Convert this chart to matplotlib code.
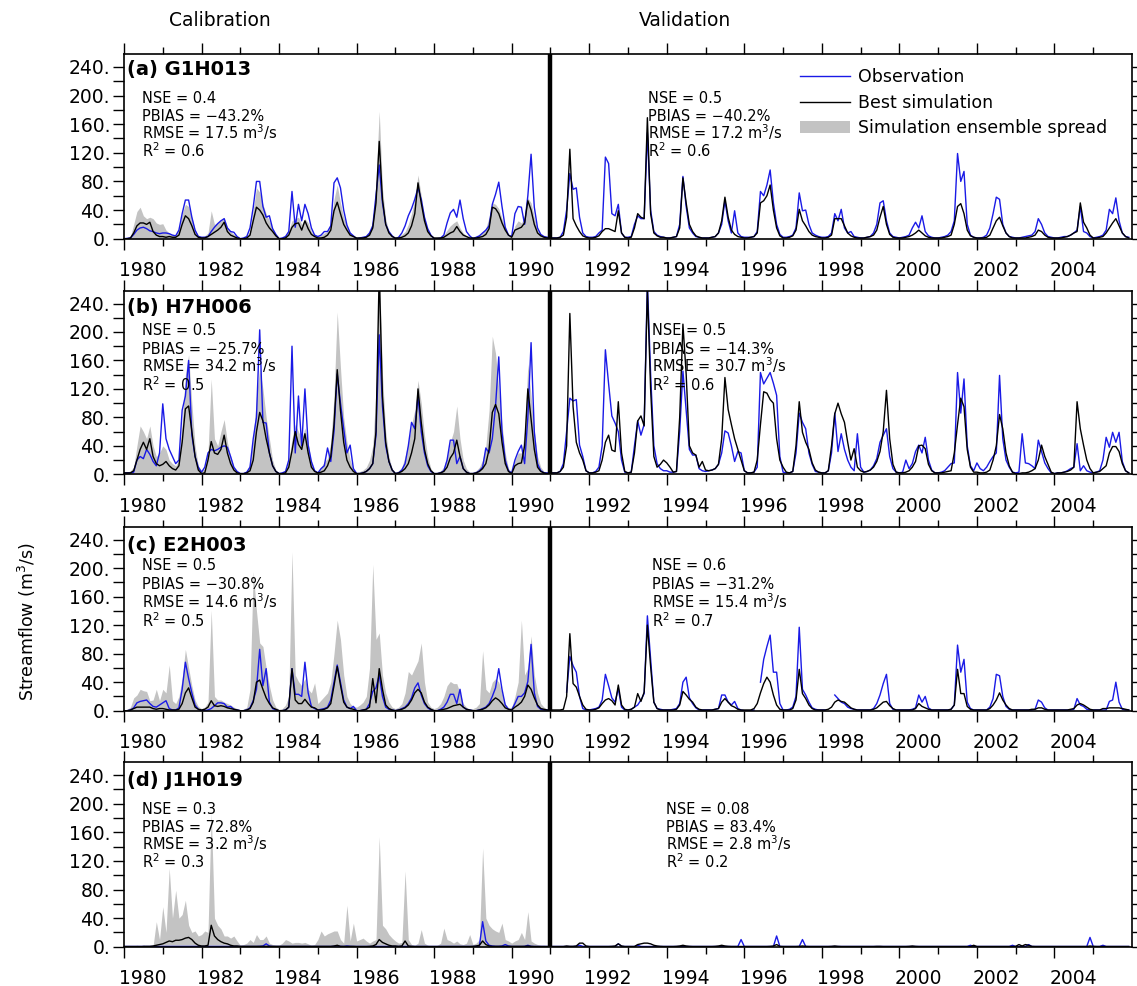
import numpy as np
import matplotlib
matplotlib.use('Agg')
import matplotlib.pyplot as plt
from matplotlib.transforms import ScaledTranslation
from matplotlib.patches import Patch
from matplotlib.lines import Line2D

plt.rcParams['font.family'] = ['DejaVu Sans']
nan = np.nan

# ---------------- data (monthly, Jan 1980 - Dec 2005) ----------------
start_year = 1980
split_year = 1991
n_cal_years = 11

stations = ['(a) G1H013', '(b) H7H006', '(c) E2H003', '(d) J1H019']

stats_cal = [
    ['NSE = 0.4', 'PBIAS = \u221243.2%', 'RMSE = 17.5 m$^3$/s', 'R$^2$ = 0.6'],
    ['NSE = 0.5', 'PBIAS = \u221225.7%', 'RMSE = 34.2 m$^3$/s', 'R$^2$ = 0.5'],
    ['NSE = 0.5', 'PBIAS = \u221230.8%', 'RMSE = 14.6 m$^3$/s', 'R$^2$ = 0.5'],
    ['NSE = 0.3', 'PBIAS = 72.8%', 'RMSE = 3.2 m$^3$/s', 'R$^2$ = 0.3'],
]
stats_val = [
    ['NSE = 0.5', 'PBIAS = \u221240.2%', 'RMSE = 17.2 m$^3$/s', 'R$^2$ = 0.6'],
    ['NSE = 0.5', 'PBIAS = \u221214.3%', 'RMSE = 30.7 m$^3$/s', 'R$^2$ = 0.6'],
    ['NSE = 0.6', 'PBIAS = \u221231.2%', 'RMSE = 15.4 m$^3$/s', 'R$^2$ = 0.7'],
    ['NSE = 0.08', 'PBIAS = 83.4%', 'RMSE = 2.8 m$^3$/s', 'R$^2$ = 0.2'],
]

yticks = [0, 40, 80, 120, 160, 200, 240]
ytick_labels = ['0.', '40.', '80.', '120.', '160.', '200.', '240.']
xticks = [1980, 1982, 1984, 1986, 1988, 1990, 1992, 1994, 1996, 1998, 2000, 2002, 2004]

# ---- (a) G1H013 ----
obs_a = [
    [0, 0.5, 1, 6, 12, 15, 16, 14, 11, 10, 8, 7],
    [8, 8, 7, 5, 4, 12, 35, 54, 54, 30, 12, 3],
    [2, 2, 3, 10, 16, 21, 25, 28, 15, 10, 9, 3],
    [0, 1, 3, 15, 44, 80, 80, 45, 30, 32, 14, 6],
    [0, 1, 3, 10, 66, 16, 48, 25, 48, 35, 15, 5],
    [3, 5, 10, 10, 18, 78, 85, 71, 40, 19, 8, 4],
    [0, 1, 2, 3, 8, 18, 60, 103, 50, 20, 10, 4],
    [0, 2, 8, 18, 32, 42, 55, 71, 55, 30, 14, 5],
    [0, 0, 1, 5, 22, 36, 41, 30, 54, 28, 10, 4],
    [0, 2, 4, 8, 12, 18, 48, 62, 79, 45, 16, 5],
    [3, 35, 45, 44, 20, 60, 118, 44, 15, 6, 3, 2],
    [1, 1, 1, 2, 10, 40, 91, 69, 71, 30, 8, 3],
    [2, 2, 3, 8, 12, 114, 105, 35, 32, 48, 8, 2],
    [2, 3, 20, 32, 28, 28, 148, 40, 10, 5, 3, 2],
    [1, 1, 2, 3, 20, 87, 45, 15, 8, 3, 2, 1],
    [1, 1, 2, 3, 8, 20, 53, 25, 8, 39, 8, 3],
    [2, 2, 2, 3, 10, 66, 60, 75, 96, 50, 20, 6],
    [2, 2, 3, 5, 15, 64, 39, 40, 20, 8, 5, 3],
    [2, 2, 3, 8, 35, 25, 41, 15, 8, 10, 3, 2],
    [1, 1, 2, 3, 8, 20, 50, 53, 25, 8, 3, 2],
    [1, 2, 3, 5, 15, 23, 15, 32, 10, 4, 2, 1],
    [1, 2, 3, 5, 10, 25, 119, 80, 94, 20, 5, 2],
    [1, 1, 2, 5, 15, 35, 58, 55, 20, 8, 3, 2],
    [1, 1, 2, 3, 4, 5, 10, 28, 20, 8, 3, 2],
    [1, 1, 2, 3, 3, 5, 8, 12, 45, 10, 8, 3],
    [1, 2, 3, 5, 12, 41, 35, 57, 25, 8, 3, 2],
]
sim_a = [
    [0, 0, 1, 8, 18, 22, 22, 20, 23, 10, 5, 3],
    [3, 2, 3, 2, 2, 5, 20, 32, 28, 18, 6, 2],
    [1, 1, 3, 6, 9, 12, 16, 23, 10, 5, 3, 1],
    [0, 0, 1, 5, 25, 44, 40, 33, 22, 15, 10, 4],
    [0, 0, 1, 5, 16, 21, 22, 12, 25, 14, 6, 3],
    [1, 1, 2, 5, 12, 39, 51, 35, 20, 12, 5, 3],
    [1, 1, 1, 2, 5, 15, 50, 136, 55, 20, 8, 3],
    [1, 1, 2, 4, 8, 18, 35, 78, 50, 25, 10, 4],
    [1, 1, 1, 2, 5, 8, 10, 17, 10, 5, 3, 1],
    [1, 1, 2, 3, 6, 14, 44, 42, 35, 22, 12, 5],
    [2, 12, 14, 16, 22, 53, 40, 20, 8, 4, 2, 1],
    [1, 1, 1, 2, 5, 30, 125, 28, 18, 10, 4, 2],
    [1, 1, 2, 4, 10, 14, 14, 12, 10, 39, 8, 2],
    [1, 2, 15, 35, 30, 28, 169, 35, 8, 4, 2, 2],
    [1, 1, 2, 3, 15, 85, 50, 20, 10, 4, 2, 1],
    [1, 1, 2, 3, 8, 25, 58, 30, 12, 6, 3, 2],
    [1, 1, 2, 3, 8, 50, 53, 60, 75, 40, 15, 4],
    [1, 1, 2, 4, 12, 41, 25, 18, 10, 5, 3, 2],
    [1, 1, 2, 5, 28, 28, 28, 18, 8, 4, 2, 1],
    [1, 1, 2, 3, 5, 12, 30, 45, 20, 6, 2, 1],
    [1, 1, 2, 3, 5, 8, 12, 8, 4, 2, 1, 1],
    [1, 1, 2, 3, 5, 20, 45, 49, 35, 12, 4, 2],
    [1, 1, 1, 2, 5, 15, 25, 30, 18, 8, 3, 1],
    [1, 1, 1, 1, 2, 3, 5, 12, 10, 5, 2, 1],
    [1, 1, 1, 2, 3, 5, 8, 10, 50, 23, 15, 5],
    [1, 1, 2, 3, 8, 15, 22, 28, 18, 8, 3, 1],
]
spread_a = [
    [0, 1, 3, 20, 38, 44, 32, 28, 30, 28, 22, 20],
    [21, 12, 8, 5, 5, 12, 35, 48, 45, 30, 12, 5],
    [3, 4, 8, 39, 20, 22, 25, 30, 15, 10, 6, 3],
    [1, 1, 3, 10, 40, 71, 65, 48, 35, 25, 15, 6],
    [2, 2, 5, 12, 25, 28, 30, 20, 28, 22, 10, 5],
    [3, 5, 8, 10, 22, 55, 75, 50, 30, 18, 8, 4],
    [2, 2, 3, 5, 10, 25, 80, 178, 70, 28, 10, 4],
    [2, 3, 6, 10, 20, 35, 55, 89, 60, 30, 12, 5],
    [1, 1, 2, 5, 12, 18, 22, 25, 15, 8, 4, 2],
    [2, 3, 5, 8, 15, 30, 50, 48, 42, 28, 15, 6],
    [3, 18, 25, 22, 30, 57, 50, 30, 12, 6, 3, 2],
]

# ---- (b) H7H006 ----
obs_b = [
    [2, 2, 2, 3, 20, 25, 22, 35, 28, 18, 12, 30],
    [99, 50, 35, 25, 15, 20, 90, 110, 160, 55, 25, 10],
    [3, 10, 30, 35, 33, 35, 38, 40, 38, 25, 10, 4],
    [1, 1, 3, 10, 50, 80, 203, 73, 72, 30, 12, 4],
    [1, 2, 4, 20, 180, 30, 110, 40, 120, 41, 18, 5],
    [2, 8, 12, 37, 18, 60, 141, 100, 64, 30, 41, 8],
    [1, 1, 2, 4, 8, 15, 55, 196, 96, 40, 18, 6],
    [1, 2, 6, 15, 40, 73, 64, 110, 60, 30, 12, 4],
    [1, 1, 2, 5, 20, 48, 48, 15, 25, 8, 3, 1],
    [1, 2, 5, 10, 37, 30, 50, 96, 165, 60, 20, 5],
    [2, 20, 32, 41, 15, 80, 185, 60, 15, 5, 2, 2],
    [2, 2, 2, 4, 15, 60, 107, 103, 105, 41, 25, 5],
    [2, 2, 4, 10, 40, 175, 127, 82, 72, 60, 20, 3],
    [2, 3, 40, 75, 55, 70, 270, 141, 40, 15, 8, 5],
    [5, 3, 3, 4, 60, 145, 90, 35, 27, 27, 8, 5],
    [4, 5, 6, 8, 14, 30, 61, 58, 40, 18, 32, 30],
    [5, 2, 2, 3, 10, 143, 127, 135, 143, 128, 111, 25],
    [3, 2, 2, 4, 30, 86, 73, 64, 30, 14, 4, 3],
    [2, 2, 5, 30, 86, 32, 57, 35, 20, 10, 5, 57],
    [10, 3, 4, 6, 12, 22, 45, 55, 64, 25, 8, 3],
    [2, 3, 20, 8, 15, 32, 41, 30, 52, 20, 6, 2],
    [2, 3, 5, 10, 15, 16, 143, 86, 134, 40, 12, 5],
    [16, 8, 5, 10, 18, 25, 30, 139, 50, 20, 10, 3],
    [2, 3, 57, 16, 15, 12, 8, 48, 32, 16, 8, 2],
    [1, 2, 2, 3, 5, 8, 10, 43, 5, 12, 5, 3],
    [2, 3, 5, 20, 52, 38, 59, 45, 59, 18, 5, 2],
]
sim_b = [
    [2, 2, 2, 5, 20, 35, 45, 35, 50, 25, 15, 12],
    [14, 18, 12, 8, 6, 12, 45, 92, 96, 60, 25, 6],
    [1, 2, 20, 46, 30, 28, 35, 55, 30, 15, 6, 2],
    [1, 1, 2, 5, 20, 60, 87, 75, 50, 30, 12, 4],
    [1, 1, 2, 10, 33, 60, 42, 35, 57, 30, 10, 4],
    [2, 3, 5, 12, 25, 70, 147, 90, 45, 20, 10, 4],
    [1, 1, 2, 4, 8, 15, 60, 285, 110, 45, 18, 6],
    [1, 2, 4, 8, 15, 30, 50, 120, 73, 35, 15, 5],
    [1, 1, 2, 4, 10, 23, 30, 48, 25, 8, 3, 1],
    [1, 2, 4, 8, 15, 35, 87, 98, 85, 45, 15, 4],
    [1, 12, 15, 16, 40, 120, 77, 35, 10, 4, 2, 1],
    [2, 2, 2, 4, 10, 40, 226, 95, 45, 30, 20, 5],
    [2, 2, 3, 5, 20, 45, 55, 34, 32, 102, 30, 4],
    [2, 3, 30, 75, 82, 68, 260, 120, 25, 10, 14, 20],
    [16, 10, 3, 4, 80, 211, 141, 40, 30, 27, 10, 18],
    [6, 5, 6, 8, 14, 50, 136, 91, 70, 50, 35, 20],
    [5, 2, 2, 3, 20, 70, 116, 114, 105, 100, 50, 20],
    [10, 3, 2, 4, 40, 102, 59, 45, 35, 16, 6, 3],
    [2, 2, 5, 40, 85, 100, 85, 73, 45, 20, 36, 10],
    [5, 3, 4, 6, 10, 18, 32, 60, 118, 50, 14, 3],
    [2, 2, 3, 5, 10, 18, 40, 41, 36, 14, 5, 2],
    [2, 2, 3, 4, 5, 30, 70, 107, 95, 35, 10, 3],
    [3, 2, 2, 3, 6, 20, 40, 84, 64, 30, 12, 3],
    [1, 1, 2, 2, 3, 5, 8, 20, 41, 25, 14, 3],
    [1, 2, 2, 3, 4, 6, 10, 102, 64, 41, 20, 8],
    [2, 3, 4, 8, 12, 30, 39, 39, 32, 15, 5, 2],
]
spread_b = [
    [2, 3, 5, 10, 40, 68, 60, 50, 68, 40, 25, 30],
    [40, 35, 20, 15, 12, 20, 70, 140, 168, 100, 40, 12],
    [5, 8, 30, 134, 50, 40, 60, 77, 45, 25, 10, 4],
    [2, 2, 5, 15, 50, 110, 150, 120, 80, 50, 20, 6],
    [2, 3, 6, 20, 50, 70, 60, 50, 65, 45, 15, 6],
    [3, 10, 18, 22, 45, 110, 228, 150, 80, 45, 20, 8],
    [3, 4, 6, 10, 20, 40, 120, 300, 140, 60, 25, 8],
    [3, 5, 10, 25, 45, 70, 90, 132, 100, 55, 25, 8],
    [2, 3, 5, 10, 25, 45, 60, 96, 50, 20, 8, 3],
    [3, 5, 10, 20, 40, 90, 194, 170, 120, 70, 30, 8],
    [3, 20, 30, 30, 60, 155, 110, 60, 25, 10, 4, 2],
]

# ---- (c) E2H003 ----
obs_c = [
    [0, 0, 1, 4, 11, 13, 14, 15, 10, 6, 5, 8],
    [11, 14, 3, 1, 1, 4, 30, 68, 45, 25, 8, 2],
    [0, 0, 1, 3, 7, 11, 11, 10, 5, 6, 2, 1],
    [0, 0, 1, 4, 14, 30, 86, 35, 59, 12, 3, 1],
    [0, 0, 1, 5, 59, 23, 23, 20, 68, 25, 6, 3],
    [1, 2, 3, 5, 15, 40, 64, 40, 15, 5, 3, 6],
    [0, 0, 1, 2, 10, 27, 32, 50, 20, 5, 2, 1],
    [0, 1, 3, 5, 10, 18, 32, 39, 22, 10, 4, 1],
    [0, 0, 2, 5, 12, 23, 23, 10, 30, 5, 2, 1],
    [0, 0, 1, 3, 5, 10, 20, 32, 59, 30, 8, 2],
    [1, 10, 20, 20, 25, 41, 93, 25, 6, 2, 1, 1],
    [nan, nan, nan, nan, nan, 26, 76, 63, 54, 20, 3, 1],
    [1, 2, 3, 5, 15, 51, 35, 18, 12, 31, 5, 1],
    [1, 2, 5, 8, 15, 24, 133, 72, 12, 3, 2, 1],
    [1, 1, 2, 3, 10, 40, 47, 18, 10, 4, 1, 1],
    [1, 1, 1, 2, 3, 22, 22, 12, 8, 13, 3, 1],
    [0, 0, 0, 1, nan, 40, 72, 90, 106, 54, 54, 10],
    [1, 1, 2, 5, 20, 117, 30, 22, 12, 4, 2, 1],
    [1, 1, nan, nan, 22, 17, 12, 10, 5, 3, 2, 1],
    [1, 1, 1, 1, 3, 10, 22, 38, 51, 10, 2, 1],
    [1, 1, 1, 1, 2, 4, 22, 12, 20, 4, 1, 1],
    [1, 1, 1, 1, 2, 8, 92, 54, 72, 12, 3, 1],
    [1, 1, 1, 1, 5, 17, 51, 49, 20, 6, 2, 1],
    [1, 1, 1, 1, 1, 1, 2, 15, 12, 4, 1, 1],
    [1, 1, 1, 1, 1, 1, 2, 17, 8, 6, 2, 1],
    [1, 1, 1, 1, 1, 13, 15, 40, 12, 2, 1, 1],
]
sim_c = [
    [0, 0, 1, 3, 5, 5, 5, 5, 5, 3, 2, 3],
    [3, 2, 1, 1, 1, 2, 10, 25, 32, 18, 5, 2],
    [1, 2, 5, 14, 7, 6, 7, 6, 4, 3, 2, 1],
    [0, 0, 1, 3, 12, 40, 43, 30, 18, 10, 4, 2],
    [0, 0, 1, 5, 59, 15, 10, 10, 16, 10, 5, 4],
    [1, 1, 2, 4, 10, 35, 62, 36, 12, 5, 3, 2],
    [0, 0, 1, 2, 5, 45, 11, 59, 30, 8, 3, 1],
    [0, 1, 2, 4, 8, 15, 25, 30, 25, 12, 5, 2],
    [0, 0, 1, 2, 3, 5, 7, 8, 9, 5, 2, 1],
    [0, 0, 1, 2, 4, 8, 14, 18, 15, 10, 4, 2],
    [1, 5, 8, 12, 20, 36, 30, 18, 8, 3, 2, 1],
    [1, 1, 1, 1, 2, 20, 108, 38, 33, 20, 8, 2],
    [1, 1, 2, 4, 10, 15, 17, 14, 8, 36, 8, 2],
    [1, 2, 5, 24, 13, 26, 120, 62, 12, 3, 1, 1],
    [1, 1, 1, 2, 8, 27, 22, 16, 12, 5, 2, 1],
    [1, 1, 1, 2, 3, 12, 17, 12, 7, 5, 2, 1],
    [1, 1, 1, 3, 10, 25, 38, 47, 40, 22, 8, 2],
    [1, 1, 1, 3, 15, 58, 24, 17, 8, 3, 1, 1],
    [1, 1, 2, 5, 12, 15, 13, 12, 8, 4, 2, 1],
    [1, 1, 1, 1, 2, 4, 8, 12, 13, 7, 3, 1],
    [1, 1, 1, 1, 1, 3, 10, 6, 4, 2, 1, 1],
    [1, 1, 1, 1, 2, 8, 58, 24, 24, 6, 2, 1],
    [1, 1, 1, 1, 3, 8, 15, 25, 15, 8, 3, 1],
    [1, 1, 1, 1, 1, 2, 2, 4, 4, 2, 1, 1],
    [1, 1, 1, 1, 1, 2, 3, 8, 10, 8, 5, 2],
    [1, 1, 1, 3, 3, 4, 4, 4, 4, 3, 2, 1],
]
spread_c = [
    [1, 2, 5, 18, 22, 30, 28, 27, 14, 15, 30, 14],
    [30, 25, 64, 14, 10, 20, 45, 86, 60, 35, 15, 6],
    [3, 5, 12, 141, 20, 15, 15, 12, 10, 8, 5, 3],
    [1, 2, 5, 30, 195, 140, 95, 90, 60, 35, 15, 5],
    [2, 3, 8, 20, 223, 50, 41, 35, 45, 30, 25, 39],
    [10, 15, 20, 25, 40, 80, 127, 100, 50, 20, 10, 6],
    [5, 8, 12, 20, 60, 205, 100, 109, 50, 25, 12, 5],
    [3, 5, 10, 25, 55, 50, 60, 70, 95, 40, 12, 5],
    [3, 5, 10, 20, 35, 41, 38, 38, 25, 10, 5, 2],
    [3, 5, 10, 84, 30, 25, 40, 45, 40, 25, 10, 4],
    [5, 20, 40, 127, 50, 60, 105, 50, 25, 10, 5, 2],
]

# ---- (d) J1H019 ----
obs_d = [
    [0.3, 0.3, 0.3, 0.3, 0.3, 0.3, 0.3, 0.3, 0.3, 0.3, 0.3, 0.3],
    [0.3, 0.3, 0.3, 0.3, 0.3, 0.3, 0.3, 0.3, 0.3, 0.3, 0.3, 0.3],
    [0.3, 0.3, 0.3, 0.3, 0.3, 0.3, 0.3, 0.3, 0.3, 0.3, 0.3, 0.3],
    [0.3, 0.3, 0.3, 0.3, 0.3, 0.3, 0.5, 1, 4, 1, 0.3, 0.3],
    [0.3, 0.3, 0.3, 0.3, 0.3, 0.3, 0.3, 0.3, 0.3, 0.3, 0.3, 0.3],
    [0.3, 0.3, 0.3, 0.3, 0.3, 0.5, 1, 0.5, 0.3, 1, 0.5, 0.3],
    [0.3, 0.3, 0.3, 0.3, 0.3, 0.3, 0.3, 0.3, 0.3, 0.3, 0.3, 0.3],
    [0.3, 0.3, 0.3, 0.3, 0.3, 0.3, 0.3, 0.3, 0.3, 0.3, 0.3, 0.3],
    [0.3, 0.3, 0.3, 0.3, 0.3, 0.3, 0.3, 0.3, 0.3, 0.3, 0.3, 0.3],
    [0.3, 0.5, 1, 35, 8, 2, 1, 0.5, 0.5, 1, 3, 1],
    [0.3, 0.3, 0.3, 0.3, 0.5, 2, 0.5, 0.3, 0.3, 0.3, 0.3, 0.3],
    [0.3, 0.3, 0.3, 0.3, 0.3, 0.3, 0.3, 0.3, 0.5, 2, 0.5, 0.3],
    [0.3, 0.3, 0.3, 0.3, 0.3, 0.3, 0.3, 0.3, 0.3, 4, 0.5, 0.3],
    [0.3, 0.3, 0.3, 2, 0.3, 0.3, 0.3, 0.3, 0.3, 0.3, 0.3, 0.3],
    [0.3, 0.3, 0.3, 0.3, 0.3, 0.3, 0.3, 0.3, 0.3, 0.3, 0.3, 0.3],
    [0.3, 0.3, 0.3, 0.3, 0.3, 0.3, 0.3, 0.3, 0.3, 0.3, 0.3, 10],
    [0.3, 0.3, 0.3, 0.3, 0.3, 0.3, 0.3, 0.3, 0.3, 0.3, 15, 0.3],
    [0.3, 0.3, 0.3, 0.3, 0.3, 0.3, 10, 0.3, 0.3, 0.3, 0.3, 0.3],
    [0.3, 0.3, 0.3, 0.3, 0.3, 0.3, 0.3, 0.3, 0.3, 0.3, 0.3, 0.3],
    [0.3, 0.3, 0.3, 0.3, 0.3, 0.3, 0.3, 0.3, 0.3, 0.3, 0.3, 0.3],
    [0.3, 0.3, 0.3, 0.3, 0.3, 0.3, 0.3, 0.3, 0.3, 0.3, 0.3, 0.3],
    [0.3, 0.3, 0.3, 0.3, 0.3, 0.3, 0.3, 0.3, 0.3, 0.3, 2, 0.3],
    [0.3, 0.3, 0.3, 0.3, 0.3, 0.3, 0.3, 0.3, 0.3, 0.3, 0.3, 2],
    [0.3, 0.3, 0.3, 0.3, 3, 0.3, 0.3, 0.3, 0.3, 0.3, 0.3, 0.3],
    [0.3, 0.3, 0.3, 0.3, 0.3, 0.3, 0.3, 0.3, 0.3, 0.3, 0.3, 13],
    [0.3, 0.3, 0.3, 2, 0.3, 0.3, 0.3, 0.3, 0.3, 0.3, 0.3, 0.3],
]
sim_d = [
    [0.3, 0.3, 0.3, 0.3, 0.3, 0.3, 0.3, 0.5, 0.5, 1, 2, 3],
    [4, 6, 8, 7, 9, 9, 10, 12, 13, 10, 5, 2],
    [1, 1, 2, 30, 15, 10, 7, 5, 4, 2, 1, 1],
    [0.5, 0.5, 0.5, 0.5, 0.5, 0.5, 0.5, 0.5, 0.5, 0.5, 0.5, 0.5],
    [0.5, 0.5, 0.5, 0.5, 0.5, 0.5, 0.5, 0.5, 0.5, 0.5, 0.5, 0.5],
    [0.5, 0.5, 0.5, 0.5, 0.5, 1, 2, 0.5, 0.5, 0.5, 0.5, 0.5],
    [0.3, 0.3, 0.3, 0.3, 0.5, 1, 3, 10, 6, 4, 2, 1],
    [1, 0.5, 1, 8, 1, 0.5, 0.3, 0.3, 0.3, 0.3, 0.3, 0.3],
    [0.3, 0.3, 0.3, 0.3, 0.3, 0.3, 0.3, 0.3, 0.3, 0.3, 0.3, 0.3],
    [0.5, 1, 2, 8, 3, 1, 0.5, 0.5, 0.5, 0.5, 0.5, 0.5],
    [0.5, 0.5, 0.5, 0.5, 0.5, 1, 0.5, 0.3, 0.3, 0.3, 0.3, 0.3],
    [0.3, 0.3, 0.3, 0.3, 0.3, 1, 0.5, 0.5, 1, 5, 5, 1],
    [0.3, 0.3, 0.3, 0.3, 0.3, 0.3, 0.3, 0.5, 1, 4, 1, 0.3],
    [0.3, 0.3, 0.3, 3, 4, 5, 5, 4, 2, 1, 0.5, 0.3],
    [0.3, 0.3, 0.3, 0.5, 1, 2, 1, 0.5, 0.3, 0.3, 0.3, 0.3],
    [0.3, 0.3, 0.3, 0.5, 1, 2, 1, 0.5, 0.3, 0.3, 0.3, 0.3],
    [0.3, 0.3, 0.3, 0.3, 0.3, 0.3, 0.3, 0.3, 0.5, 1, 3, 0.5],
    [0.3, 0.3, 0.3, 0.3, 0.3, 0.5, 1, 0.5, 0.3, 0.3, 0.3, 0.3],
    [0.3, 0.3, 0.3, 0.5, 1, 0.5, 0.3, 0.3, 0.3, 0.3, 0.3, 0.3],
    [0.3, 0.3, 0.3, 0.3, 0.3, 0.5, 0.5, 0.3, 0.3, 0.3, 0.3, 0.3],
    [0.3, 0.3, 0.3, 0.5, 1, 0.5, 0.3, 0.3, 0.3, 0.3, 0.3, 0.3],
    [0.3, 0.3, 0.3, 0.3, 0.3, 0.3, 0.3, 0.3, 0.3, 0.3, 0.3, 2],
    [0.3, 0.3, 0.3, 0.3, 0.3, 0.3, 0.3, 0.3, 0.3, 0.3, 0.3, 0.3],
    [0.5, 3, 1, 3, 2, 0.5, 0.3, 0.3, 0.3, 0.3, 0.3, 0.3],
    [0.3, 0.3, 0.3, 0.3, 0.3, 0.3, 0.3, 0.3, 0.3, 0.3, 0.3, 1],
    [0.5, 0.3, 0.3, 0.3, 0.3, 0.3, 0.3, 0.3, 0.3, 0.3, 0.3, 0.3],
]
spread_d = [
    [0.5, 0.5, 1, 1, 2, 1, 3, 1, 1, 1, 35, 10],
    [56, 20, 110, 40, 79, 40, 45, 65, 30, 20, 22, 15],
    [17, 22, 20, 188, 40, 30, 25, 15, 15, 12, 15, 8],
    [2, 3, 5, 10, 6, 17, 10, 10, 15, 5, 3, 2],
    [2, 5, 10, 8, 5, 6, 6, 5, 6, 4, 2, 3],
    [10, 22, 15, 18, 20, 22, 22, 10, 5, 58, 8, 33],
    [8, 10, 12, 8, 5, 8, 10, 154, 30, 25, 17, 12],
    [8, 5, 6, 106, 10, 3, 2, 5, 24, 5, 2, 1],
    [1, 2, 5, 26, 10, 8, 5, 8, 4, 3, 5, 17],
    [3, 5, 10, 138, 40, 30, 25, 22, 20, 33, 10, 8],
    [5, 8, 10, 20, 10, 49, 8, 5, 3, 2, 2, 1],
]

obs_all = [obs_a, obs_b, obs_c, obs_d]
sim_all = [sim_a, sim_b, sim_c, sim_d]
spread_all = [spread_a, spread_b, spread_c, spread_d]

# ---------------- layout (pixels of the 1137x986 figure) ----------------
W, H = 1137, 986
ax_left, ax_right = 124, 1132
panel_tb = [(54, 238.7), (290.7, 474.3), (526.7, 710.7), (762.3, 946.7)]
title_y = [69.5, 308, 545, 780]
stats_y = [[98, 116, 134, 152], [330, 349, 367, 386],
           [565, 584, 603, 622], [809, 827, 845, 863]]
stats_x_cal = [142, 142, 142, 142]
stats_x_val = [648, 652, 652, 666]
y_top = 258

BLUE = '#1a1ae6'
GRAY = '#c3c3c3'

fig = plt.figure(figsize=(W / 100, H / 100), dpi=100)

n_months = len(obs_a) * 12
t = start_year + np.arange(n_months) / 12.0
n_cal = n_cal_years * 12

for k in range(4):
    top, bot = panel_tb[k]
    ax = fig.add_axes([ax_left / W, 1 - bot / H, (ax_right - ax_left) / W, (bot - top) / H])
    obs = np.array(obs_all[k], dtype=float).ravel()
    sim = np.array(sim_all[k], dtype=float).ravel()
    spr = np.array(spread_all[k], dtype=float).ravel()

    ax.fill_between(t[:n_cal], 0, spr, color=GRAY, lw=0, zorder=1)
    ax.plot(t, obs, color=BLUE, lw=1.0, zorder=2)
    ax.plot(t, sim, color='black', lw=1.0, zorder=3)
    ax.axvline(split_year, color='black', lw=3.2, zorder=4)

    ax.set_xlim(1980, 2006)
    ax.set_ylim(0, y_top)

    ax.set_yticks(yticks)
    ax.set_yticklabels(ytick_labels)
    ax.set_yticks(np.arange(20, y_top, 40), minor=True)
    ax.set_xticks(xticks)
    ax.set_xticklabels([str(x) for x in xticks])
    ax.set_xticks(np.arange(1981, 2006, 2), minor=True)

    ax.tick_params(axis='both', which='both', direction='out', top=True, right=True,
                   width=1.0, color='black')
    ax.tick_params(axis='y', which='major', length=8, labelsize=13.5, pad=2)
    ax.tick_params(axis='y', which='minor', length=8)
    ax.tick_params(axis='x', which='major', length=8, labelsize=13.5, pad=8)
    ax.tick_params(axis='x', which='minor', length=5)
    for s in ax.spines.values():
        s.set_linewidth(1.2)

    off = ScaledTranslation(19 / 100, 0, fig.dpi_scale_trans)
    for lab in ax.get_xticklabels():
        lab.set_transform(lab.get_transform() + off)

    fig.text(127 / W, 1 - title_y[k] / H, stations[k], fontsize=14, fontweight='bold',
             ha='left', va='center')
    for j in range(4):
        yb = 1 - (stats_y[k][j] + 5) / H
        fig.text(stats_x_cal[k] / W, yb, stats_cal[k][j],
                 fontsize=10.5, ha='left', va='baseline')
        fig.text(stats_x_val[k] / W, yb, stats_val[k][j],
                 fontsize=10.5, ha='left', va='baseline')

    if k == 0:
        handles = [Line2D([], [], color=BLUE, lw=1.0),
                   Line2D([], [], color='black', lw=1.0),
                   Patch(facecolor=GRAY, edgecolor='none')]
        ax.legend(handles, ['Observation', 'Best simulation', 'Simulation ensemble spread'],
                  loc='upper left', bbox_to_anchor=((800 - ax_left) / (ax_right - ax_left), 0.925),
                  frameon=False, fontsize=12.5, handlelength=2.9, handletextpad=0.45,
                  labelspacing=0.45, borderpad=0, borderaxespad=0)

fig.text(220 / W, 1 - 20 / H, 'Calibration', fontsize=13.5, ha='center', va='center')
fig.text(685 / W, 1 - 20 / H, 'Validation', fontsize=13.5, ha='center', va='center')
fig.text(27 / W, 1 - 622 / H, 'Streamflow (m$^3$/s)', fontsize=12.5, rotation=90,
         ha='center', va='center')

fig.savefig('out.png', dpi=100)
